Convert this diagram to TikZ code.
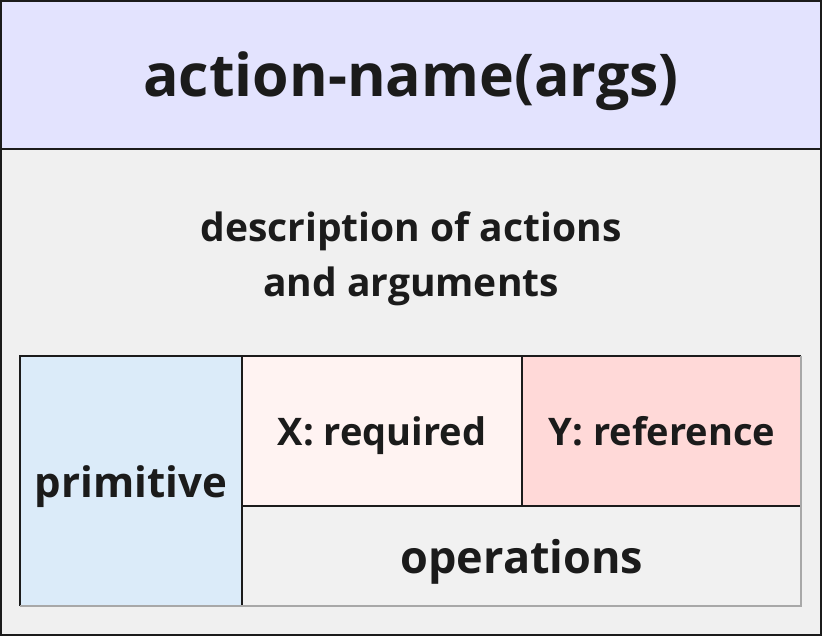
\documentclass[tikz,border=0pt]{standalone}
\usepackage{fontspec}
\setmainfont{Open Sans}[BoldFont={Open Sans Bold}]
\definecolor{headfill}{HTML}{E3E3FE}
\definecolor{bodyfill}{HTML}{F0F0F0}
\definecolor{primfill}{HTML}{DBEBF9}
\definecolor{reqfill}{HTML}{FFF3F2}
\definecolor{reffill}{HTML}{FFD9D8}
\definecolor{opfill}{HTML}{F1F1F1}
\definecolor{ink}{HTML}{1B1B1B}
\definecolor{softedge}{HTML}{A8A8A8}
\tikzset{
  lbl/.style={text=ink, font=\bfseries, inner sep=0pt, align=center},
}
\begin{document}
\begin{tikzpicture}[x=1pt,y=-1pt]
\useasboundingbox (0,0) rectangle (822,636);
% header and body panels
\fill[headfill] (1,1) rectangle (821,149);
\fill[bodyfill] (1,149) rectangle (821,635);
\draw[ink, line width=2pt] (1,1) rectangle (821,635);
\draw[ink, line width=2.4pt] (1,149) -- (821,149);
% table cells
\fill[primfill] (20,356) rectangle (242,606);
\fill[reqfill] (242,356) rectangle (522,506);
\fill[reffill] (522,356) rectangle (801,506);
\fill[opfill] (242,506) rectangle (801,606);
\draw[ink, line width=1.6pt] (20,606) -- (20,356) -- (801,356);
\draw[ink, line width=1.8pt] (242,356) -- (242,606);
\draw[ink, line width=1.6pt] (522,356) -- (522,506);
\draw[ink, line width=1.6pt] (242,506) -- (801,506);
\draw[softedge, line width=1.4pt] (20,606) -- (801,606) -- (801,356);
% labels
\node[lbl, anchor=base, font=\bfseries\fontsize{59}{64}\selectfont] (title) at (411,97) {action-name(args)};
\node[lbl, font=\bfseries\fontsize{39}{55}\selectfont] (desc) at (411,259) {description of actions\\and arguments};
\node[lbl, anchor=base, font=\bfseries\fontsize{42}{46}\selectfont] (prim) at (131,497) {primitive};
\node[lbl, anchor=base, font=\bfseries\fontsize{38}{42}\selectfont] (req) at (382,445) {X: required};
\node[lbl, anchor=base, font=\bfseries\fontsize{38}{42}\selectfont] (ref) at (662,445) {Y: reference};
\node[lbl, anchor=base, font=\bfseries\fontsize{45}{50}\selectfont] (ops) at (522,573) {operations};
\end{tikzpicture}
\end{document}
